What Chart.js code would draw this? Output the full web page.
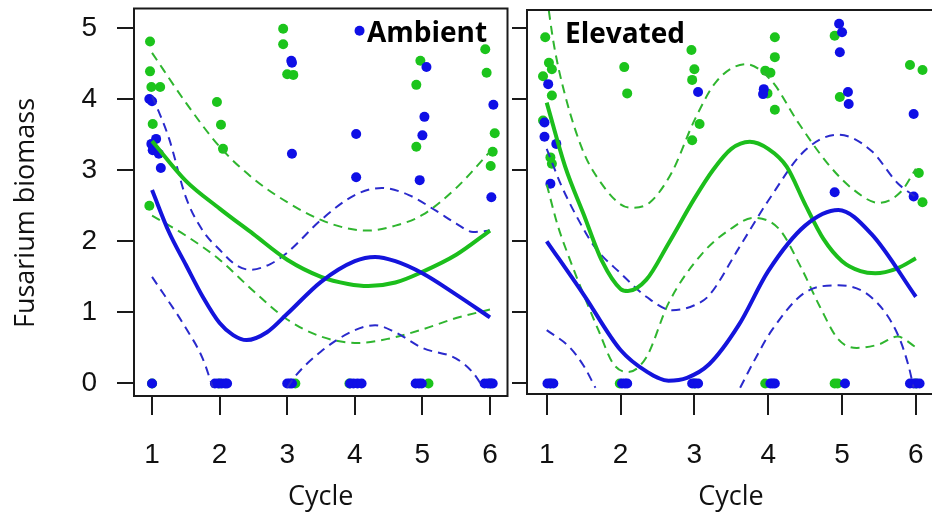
<!DOCTYPE html>
<html><head><meta charset="utf-8">
<script src="https://cdn.jsdelivr.net/npm/chart.js@4.4.1/dist/chart.umd.min.js"></script>
<style>
html,body{margin:0;padding:0;background:#fff;overflow:hidden;}
#wrap{position:relative;width:932px;height:516px;overflow:hidden;background:#fff;}
canvas{position:absolute;left:0;top:0;}
</style></head><body>
<div id="wrap"><canvas id="c1" width="932" height="516"></canvas><canvas id="c2" width="940" height="516"></canvas></div>
<script>
// ---------- data ----------
const cycleTicks = [1, 2, 3, 4, 5, 6];
const biomassTicks = [0, 1, 2, 3, 4, 5];
const panelNames = ['Ambient', 'Elevated'];
const xTitle = 'Cycle';
const yTitle = 'Fusarium biomass';

// observed points [cycle (jittered), biomass]
const ambientGreenPts = [[0.97,4.81],[0.97,4.39],[0.99,4.17],[1.12,4.17],[1.01,3.65],[0.96,2.50],
  [1.96,3.96],[2.02,3.64],[2.05,3.30],[2.94,4.99],[2.94,4.77],[3.00,4.35],[3.09,4.34],
  [4.97,4.54],[4.91,4.20],[4.91,3.33],[5.93,4.70],[5.95,4.37],[6.07,3.52],[6.04,3.26],[6.01,3.06],
  [1.00,0],[2.00,0],[3.12,0],[3.92,0],[5.09,0],[6.00,0]];
const ambientBluePts = [[0.96,4.00],[1.00,3.97],[0.99,3.37],[1.06,3.44],[1.01,3.28],[1.10,3.23],[1.13,3.03],
  [3.06,4.54],[3.07,4.51],[3.07,3.23],[4.07,4.96],[4.02,3.51],[4.02,2.90],
  [5.06,4.45],[5.03,3.75],[5.00,3.49],[4.96,2.86],[6.05,3.92],[6.02,2.62],
  [1.00,0],[1.93,0],[1.98,0],[2.03,0],[2.08,0],[2.11,0],[3.00,0],[3.04,0],[3.07,0],
  [3.93,0],[3.98,0],[4.04,0],[4.10,0],[4.90,0],[4.95,0],[4.99,0],[5.92,0],[5.97,0],[6.01,0],[6.04,0]];
const elevatedGreenPts = [[0.98,4.87],[1.03,4.51],[1.07,4.42],[0.95,4.32],[1.07,4.05],[0.95,3.70],[1.05,3.18],[1.07,3.09],
  [2.05,4.45],[2.09,4.08],[2.96,4.69],[3.00,4.42],[2.97,4.27],[3.07,3.65],[2.97,3.42],
  [4.09,4.87],[4.09,4.59],[3.96,4.40],[4.03,4.37],[3.99,4.08],[4.09,3.85],[4.90,4.89],[4.97,4.03],
  [5.92,4.48],[6.09,4.41],[6.04,2.96],[6.09,2.55],
  [1.05,0],[1.99,0],[3.00,0],[3.96,0],[4.90,0],[4.94,0],[6.00,0]];
const elevatedBluePts = [[1.02,4.21],[0.97,3.67],[0.97,3.47],[1.13,3.37],[1.05,2.81],[3.05,4.10],[3.94,4.14],[3.93,4.07],
  [4.96,5.06],[5.00,4.94],[4.97,4.66],[5.08,4.10],[5.09,3.93],[4.90,2.69],[5.97,3.79],[5.97,2.63],
  [1.01,0],[1.05,0],[1.09,0],[2.02,0],[2.06,0],[2.09,0],[2.97,0],[3.01,0],[3.05,0],
  [4.03,0],[4.06,0],[4.09,0],[5.04,0],[5.92,0],[5.97,0],[6.01,0],[6.05,0]];

// fitted curves [cycle, biomass]; null = break
const ambientGreenFit = [[1.0,3.41],[1.5,2.85],[2.0,2.46],[2.5,2.10],[3.0,1.74],[3.5,1.50],[3.9,1.40],[4.2,1.37],[4.6,1.42],[5.0,1.57],[5.5,1.81],[6.0,2.15]];
const ambientGreenUpper = [[1.0,4.65],[1.5,3.95],[2.0,3.33],[2.5,2.88],[3.0,2.55],[3.5,2.30],[3.9,2.18],[4.2,2.15],[4.6,2.22],[5.0,2.37],[5.5,2.75],[6.0,3.26]];
const ambientGreenLower = [[1.0,2.36],[1.5,2.08],[2.0,1.74],[2.5,1.30],[3.0,0.90],[3.5,0.66],[4.05,0.57],[4.5,0.63],[5.0,0.76],[5.5,0.92],[6.0,1.04]];
const ambientBlueFit = [[1.0,2.72],[1.25,2.13],[1.5,1.67],[1.75,1.22],[2.0,0.85],[2.2,0.68],[2.4,0.61],[2.7,0.72],[3.0,0.98],[3.5,1.43],[4.0,1.72],[4.3,1.78],[4.6,1.72],[5.0,1.55],[5.5,1.25],[6.0,0.93]];
const ambientBlueUpper = [[1.0,4.05],[1.25,3.45],[1.5,2.62],[1.75,2.15],[2.0,1.88],[2.25,1.66],[2.45,1.60],[2.75,1.68],[3.0,1.84],[3.5,2.30],[4.0,2.65],[4.4,2.75],[4.8,2.65],[5.2,2.43],[5.5,2.25],[5.75,2.13],[6.0,2.15]];
const ambientBlueLower = [[1.0,1.50],[1.5,0.78],[1.75,0.35],[1.9,-0.06],[2.5,null],[3.0,-0.06],[3.1,0.08],[3.5,0.45],[4.0,0.75],[4.3,0.82],[4.6,0.72],[5.0,0.50],[5.5,0.35],[5.75,0.15],[5.9,-0.06]];

const elevatedGreenFit = [[1.0,3.95],[1.25,3.05],[1.5,2.38],[1.75,1.72],[2.0,1.33],[2.1,1.30],[2.35,1.46],[2.65,1.97],[3.0,2.60],[3.25,3.00],[3.5,3.30],[3.75,3.40],[4.0,3.30],[4.25,3.05],[4.5,2.52],[4.75,2.03],[5.0,1.72],[5.25,1.58],[5.45,1.55],[5.75,1.62],[6.0,1.76]];
const elevatedGreenUpper = [[1.0,5.45],[1.1,4.75],[1.25,4.05],[1.5,3.25],[1.75,2.80],[2.0,2.52],[2.15,2.47],[2.4,2.55],[2.7,2.98],[3.0,3.70],[3.3,4.25],[3.7,4.49],[4.05,4.25],[4.4,3.68],[4.8,3.10],[5.15,2.73],[5.5,2.54],[5.8,2.70],[6.0,3.02]];
const elevatedGreenLower = [[1.0,2.80],[1.15,2.22],[1.3,1.78],[1.5,1.25],[1.7,0.75],[1.9,0.28],[2.1,0.16],[2.35,0.37],[2.65,1.13],[3.1,1.82],[3.5,2.18],[3.8,2.33],[4.15,2.17],[4.45,1.62],[4.7,1.08],[4.95,0.62],[5.2,0.50],[5.5,0.55],[5.75,0.66],[6.0,0.51]];
const elevatedBlueFit = [[1.0,2.00],[1.5,1.25],[2.0,0.47],[2.35,0.17],[2.65,0.04],[2.9,0.08],[3.2,0.27],[3.6,0.82],[4.0,1.58],[4.5,2.22],[4.95,2.44],[5.4,2.10],[6.0,1.22]];
const elevatedBlueUpper = [[1.0,3.30],[1.2,2.78],[1.4,2.36],[1.65,1.92],[2.0,1.55],[2.35,1.22],[2.7,1.03],[3.0,1.10],[3.2,1.24],[3.6,1.90],[4.0,2.57],[4.5,3.28],[4.95,3.50],[5.4,3.27],[5.75,2.82],[6.0,2.62]];
const elevatedBlueLower = [[1.0,0.75],[1.3,0.52],[1.5,0.25],[1.66,-0.06],[2.5,null],[3.62,-0.06],[3.8,0.30],[4.05,0.75],[4.5,1.28],[4.95,1.38],[5.4,1.21],[5.75,0.70],[5.9,0.25],[5.97,-0.06]];

// ---------- styling ----------
const GREEN_PT = '#1cc41c', BLUE_PT = '#0f0fe6';
const GREEN_LN = '#1cbe1c', BLUE_LN = '#1414dc';
const GREEN_DASH = '#2fb52f', BLUE_DASH = '#2a2acc';
const INK = '#1a1a1a';
const TICK_FONT = "'Liberation Sans', Arial, sans-serif";
const TITLE_FONT = "'Open Sans', sans-serif";

const toXY = arr => arr.map(p => ({x: p[0], y: p[1]}));

function pointSet(pts, color, order) {
  return {type: 'scatter', data: toXY(pts), showLine: false, pointRadius: 5, pointHoverRadius: 5,
    pointBackgroundColor: color, pointBorderWidth: 0, backgroundColor: color, borderColor: color, order};
}
function lineSet(pts, color, width, dash, order) {
  return {type: 'scatter', data: toXY(pts), showLine: true, pointRadius: 0, pointHoverRadius: 0,
    borderColor: color, borderWidth: width, borderDash: dash, spanGaps: false,
    cubicInterpolationMode: 'monotone', tension: 0.4, fill: false, order};
}

const framePlugin = {
  id: 'frame',
  afterDatasetsDraw(chart) {
    const {ctx, chartArea: a} = chart;
    ctx.save();
    ctx.strokeStyle = INK; ctx.lineWidth = 2;
    ctx.strokeRect(a.left, a.top, a.right - a.left, a.bottom - a.top);
    ctx.restore();
  }
};
function labelPlugin(text, dx, baseDy, yTitleText) {
  return {
    id: 'panelLabel',
    afterDraw(chart) {
      const {ctx, chartArea: a} = chart;
      ctx.save();
      ctx.font = "bold 28px 'Open Sans', sans-serif";
      ctx.fillStyle = '#000';
      ctx.textBaseline = 'alphabetic';
      ctx.textAlign = 'left';
      ctx.fillText(text, a.left + dx, a.top + baseDy);
      if (yTitleText) {
        ctx.translate(26, 213);
        ctx.rotate(-Math.PI / 2);
        ctx.font = "27px 'Open Sans', sans-serif";
        ctx.fillStyle = '#111';
        ctx.textAlign = 'center';
        ctx.textBaseline = 'middle';
        ctx.fillText(yTitleText, 0, 0);
      }
      ctx.restore();
    }
  };
}

function xScale(tickLen, h) {
  return {
    type: 'linear', min: 0.733, max: 6.259,
    afterBuildTicks: s => { s.ticks = cycleTicks.map(v => ({value: v})); },
    afterFit: s => { s.height = h; s.paddingLeft = 0; s.paddingRight = 0; },
    grid: {drawOnChartArea: false, drawTicks: true, tickLength: tickLen, color: INK, lineWidth: 2},
    border: {display: false},
    ticks: {font: {family: TICK_FONT, size: 28}, color: '#111', padding: 23, maxRotation: 0, autoSkip: false},
    title: {display: true, text: xTitle, font: {family: TITLE_FONT, size: 27}, color: '#111', padding: {top: 0, bottom: 2}}
  };
}

function makeChart(canvas, datasets, yMin, yMax, opts) {
  const yScale = {
    type: 'linear', position: 'left', min: yMin, max: yMax,
    afterBuildTicks: s => { s.ticks = biomassTicks.map(v => ({value: v})); },
    afterFit: s => { s.width = opts.yWidth; s.paddingTop = 0; s.paddingBottom = 0; },
    grid: {drawOnChartArea: false, drawTicks: true, tickLength: opts.yTick, color: INK, lineWidth: 2},
    border: {display: false},
    ticks: {display: opts.yLabels, font: {family: TICK_FONT, size: 28}, color: '#111', padding: 20},
    title: {display: false}
  };
  return new Chart(canvas, {
    type: 'scatter',
    data: {datasets},
    options: {
      responsive: false, animation: false, devicePixelRatio: 1,
      layout: {padding: opts.padding},
      plugins: {legend: {display: false}, tooltip: {enabled: false}},
      scales: {x: xScale(opts.xTick, opts.xHeight), y: yScale}
    },
    plugins: [framePlugin, labelPlugin(opts.label, opts.labelDx, opts.labelDy, opts.yLabels ? yTitle : null)]
  });
}

makeChart(document.getElementById('c1'), [
  pointSet(ambientGreenPts, GREEN_PT, 20),
  pointSet(ambientBluePts, BLUE_PT, 19),
  lineSet(ambientGreenUpper, GREEN_DASH, 2, [9, 6], 8),
  lineSet(ambientGreenLower, GREEN_DASH, 2, [9, 6], 7),
  lineSet(ambientBlueUpper, BLUE_DASH, 2, [9, 6], 6),
  lineSet(ambientBlueLower, BLUE_DASH, 2, [9, 6], 5),
  lineSet(ambientGreenFit, GREEN_LN, 4, [], 2),
  lineSet(ambientBlueFit, BLUE_LN, 4, [], 1)
], -0.176, 5.274, {
  padding: {left: 0, top: 8.5, right: 424.5, bottom: 0},
  yWidth: 134, yTick: 17, yLabels: true, xTick: 19, xHeight: 120,
  label: panelNames[0], labelDx: 233, labelDy: 33
});

makeChart(document.getElementById('c2'), [
  pointSet(elevatedGreenPts, GREEN_PT, 20),
  pointSet(elevatedBluePts, BLUE_PT, 19),
  lineSet(elevatedGreenUpper, GREEN_DASH, 2, [9, 6], 8),
  lineSet(elevatedGreenLower, GREEN_DASH, 2, [9, 6], 7),
  lineSet(elevatedBlueUpper, BLUE_DASH, 2, [9, 6], 6),
  lineSet(elevatedBlueLower, BLUE_DASH, 2, [9, 6], 5),
  lineSet(elevatedGreenFit, GREEN_LN, 4, [], 2),
  lineSet(elevatedBlueFit, BLUE_LN, 4, [], 1)
], -0.148, 5.253, {
  padding: {left: 512, top: 10, right: 5, bottom: 0},
  yWidth: 15, yTick: 15, yLabels: false, xTick: 21, xHeight: 122,
  label: panelNames[1], labelDx: 38, labelDy: 33
});
</script>
</body></html>
